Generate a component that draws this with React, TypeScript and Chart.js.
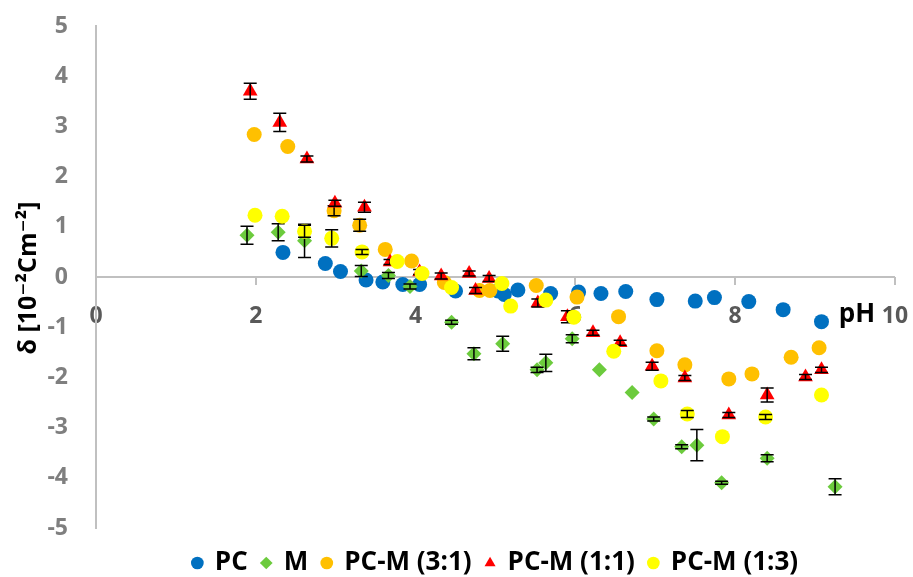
import React, { useEffect, useRef } from 'react';
import { Chart, registerables } from 'chart.js';

Chart.register(...registerables);

const FONT = '"Open Sans", "DejaVu Sans", sans-serif';

// Series names, in legend order
const seriesNames = ['PC', 'M', 'PC-M (3:1)', 'PC-M (1:1)', 'PC-M (1:3)'];
const seriesColors = ['#0070C0', '#6CCB3D', '#FFC000', '#FF0000', '#FFFF00'];
const seriesShapes = ['circle', 'rectRot', 'circle', 'triangle', 'circle'];

// Axis tick values
const xTickValues = [0, 2, 4, 6, 8, 10];
const yTickValues = [-5, -4, -3, -2, -1, 0, 1, 2, 3, 4, 5];

// PC
const pcPH = [2.34, 2.87, 3.06, 3.38, 3.59, 3.84, 4.05, 4.5, 5.03, 5.11, 5.28, 5.69, 6.04, 6.32, 6.63, 7.02, 7.5, 7.74, 8.17, 8.6, 9.08];
const pcDelta = [0.49, 0.27, 0.11, -0.06, -0.1, -0.15, -0.15, -0.28, -0.28, -0.35, -0.26, -0.33, -0.3, -0.33, -0.29, -0.45, -0.48, -0.41, -0.49, -0.65, -0.89];
const pcErr = [0, 0, 0, 0, 0, 0, 0, 0, 0, 0, 0, 0, 0, 0, 0, 0, 0, 0, 0, 0, 0];

// M
const mPH = [1.89, 2.28, 2.61, 3.32, 3.66, 3.93, 4.45, 4.73, 5.09, 5.52, 5.63, 5.96, 6.3, 6.71, 6.98, 7.33, 7.52, 7.83, 8.4, 9.25];
const mDelta = [0.83, 0.89, 0.72, 0.12, 0.03, -0.19, -0.9, -1.53, -1.33, -1.85, -1.71, -1.23, -1.85, -2.3, -2.83, -3.38, -3.35, -4.1, -3.61, -4.18];
const mErr = [0.18, 0.17, 0.33, 0.11, 0.06, 0.05, 0.04, 0.12, 0.15, 0.05, 0.17, 0.08, 0, 0, 0.04, 0.04, 0.31, 0.03, 0.07, 0.16];

// PC-M (3:1)
const pcm31PH = [1.98, 2.4, 2.98, 3.3, 3.62, 3.95, 4.36, 4.8, 4.93, 5.51, 6.02, 6.54, 7.02, 7.37, 7.92, 8.21, 8.7, 9.05];
const pcm31Delta = [2.84, 2.6, 1.32, 1.03, 0.55, 0.32, -0.11, -0.27, -0.27, -0.17, -0.4, -0.79, -1.47, -1.75, -2.03, -1.93, -1.6, -1.41];
const pcm31Err = [0, 0, 0.1, 0.12, 0, 0, 0, 0, 0, 0, 0, 0, 0, 0, 0, 0, 0, 0];

// PC-M (1:1)
const pcm11PH = [1.93, 2.3, 2.64, 2.99, 3.36, 3.68, 4.05, 4.32, 4.67, 4.75, 4.92, 5.53, 5.9, 6.22, 6.56, 6.96, 7.37, 7.92, 8.4, 8.88, 9.08];
const pcm11Delta = [3.7, 3.08, 2.35, 1.47, 1.39, 0.3, 0.1, 0.02, 0.07, -0.27, -0.03, -0.52, -0.79, -1.11, -1.31, -1.78, -2.01, -2.75, -2.35, -1.99, -1.85];
const pcm11Err = [0.16, 0.18, 0.06, 0.06, 0.1, 0.05, 0.05, 0.06, 0.05, 0.06, 0.06, 0.08, 0.12, 0.05, 0.05, 0.08, 0.05, 0.05, 0.14, 0.05, 0.05];

// PC-M (1:3)
const pcm13PH = [1.99, 2.33, 2.61, 2.95, 3.33, 3.77, 4.08, 4.45, 5.08, 5.19, 5.63, 5.98, 6.48, 7.07, 7.4, 7.84, 8.38, 9.08];
const pcm13Delta = [1.23, 1.21, 0.91, 0.77, 0.5, 0.31, 0.07, -0.21, -0.13, -0.58, -0.46, -0.8, -1.48, -2.07, -2.73, -3.18, -2.79, -2.35];
const pcm13Err = [0, 0, 0.12, 0.17, 0.05, 0, 0, 0, 0, 0, 0, 0, 0, 0, 0.07, 0, 0.05, 0];

const seriesPH = [pcPH, mPH, pcm31PH, pcm11PH, pcm13PH];
const seriesDelta = [pcDelta, mDelta, pcm31Delta, pcm11Delta, pcm13Delta];
const seriesErr = [pcErr, mErr, pcm31Err, pcm11Err, pcm13Err];
const seriesRadius = [7.5, 7.5, 7.5, 8.5, 7.5];

// Vertical error bars, drawn right after each series so later series overlap them
const errorBarPlugin = {
  id: 'errorBars',
  afterDatasetDraw(chart: any, args: any) {
    const errs = seriesErr[args.index];
    const vals = seriesDelta[args.index];
    if (!errs) return;
    const { ctx } = chart;
    const y = chart.scales.y;
    ctx.save();
    ctx.strokeStyle = '#000000';
    ctx.lineWidth = 1.5;
    args.meta.data.forEach((pt: any, i: number) => {
      const e = errs[i];
      if (!e) return;
      const px = pt.x;
      const top = y.getPixelForValue(vals[i] + e);
      const bot = y.getPixelForValue(vals[i] - e);
      ctx.beginPath();
      ctx.moveTo(px, top);
      ctx.lineTo(px, bot);
      ctx.moveTo(px - 6.5, top);
      ctx.lineTo(px + 6.5, top);
      ctx.moveTo(px - 6.5, bot);
      ctx.lineTo(px + 6.5, bot);
      ctx.stroke();
    });
    ctx.restore();
  },
};

// Axis titles: rotated y title at the left, "pH" beside the end of the x axis
const axisTitlePlugin = {
  id: 'axisTitles',
  afterDraw(chart: any) {
    const { ctx } = chart;
    ctx.save();
    ctx.fillStyle = '#000000';
    ctx.font = `bold 26px ${FONT}`;
    ctx.textAlign = 'center';
    ctx.textBaseline = 'alphabetic';
    ctx.fillText('pH', 857, 322);
    ctx.translate(29, 278);
    ctx.rotate(-Math.PI / 2);
    ctx.textBaseline = 'middle';
    ctx.font = `bold 25px ${FONT}`;
    ctx.fillText('δ [10⁻²Cm⁻²]', 0, 0);
    ctx.restore();
  },
};

export default function App() {
  const canvasRef = useRef<HTMLCanvasElement | null>(null);

  useEffect(() => {
    const canvas = canvasRef.current;
    if (!canvas) return;

    const datasets = seriesNames.map((name, s) => ({
      label: name,
      data: seriesPH[s].map((x, i) => ({ x, y: seriesDelta[s][i] })),
      backgroundColor: seriesColors[s],
      borderColor: seriesColors[s],
      borderWidth: 0,
      pointStyle: seriesShapes[s],
      pointRadius: seriesRadius[s],
      pointHoverRadius: seriesRadius[s],
      pointBorderWidth: 0,
      showLine: false,
      order: seriesNames.length - 1 - s,
    }));

    const chart = new Chart(canvas, {
      type: 'scatter',
      data: { datasets },
      plugins: [errorBarPlugin, axisTitlePlugin],
      options: {
        responsive: false,
        animation: false,
        events: [],
        layout: { padding: { top: 26, right: 18, bottom: -9, left: 0 } },
        plugins: {
          tooltip: { enabled: false },
          legend: {
            position: 'bottom',
            fullSize: false,
            title: { display: true, text: '', padding: 0, font: { size: 8, lineHeight: 1 } },
            labels: {
              usePointStyle: true,
              boxWidth: 9,
              boxHeight: 9,
              padding: 14,
              color: '#000000',
              font: { family: FONT, size: 26, weight: 'bold' },
              sort: (a: any, b: any) => a.datasetIndex - b.datasetIndex,
            },
          },
        },
        scales: {
          x: {
            type: 'linear',
            position: { y: 0 },
            min: 0,
            max: 10,
            z: 1,
            afterBuildTicks: (scale: any) => {
              scale.ticks = xTickValues.map((v) => ({ value: v }));
            },
            ticks: {
              color: '#595959',
              padding: 0,
              font: { family: FONT, size: 23, weight: 'bold' },
            },
            grid: {
              drawOnChartArea: false,
              drawTicks: true,
              tickLength: 26,
              tickBorderDash: [8, 60],
              tickColor: '#c0c0c0',
              tickWidth: 2,
              color: '#c0c0c0',
              lineWidth: 2,
            },
            border: { display: false },
          },
          y: {
            type: 'linear',
            position: 'left',
            min: -5,
            max: 5,
            afterBuildTicks: (scale: any) => {
              scale.ticks = yTickValues.map((v) => ({ value: v }));
            },
            afterFit: (scale: any) => {
              scale.width = 96;
            },
            ticks: {
              color: '#7f7f7f',
              padding: 0,
              font: { family: FONT, size: 23, weight: 'bold' },
            },
            grid: {
              drawTicks: true,
              tickLength: 28,
              tickColor: 'rgba(0,0,0,0)',
              color: (ctx: any) => (ctx.tick && ctx.tick.value === 0 ? '#c0c0c0' : 'rgba(0,0,0,0)'),
              lineWidth: 2,
            },
            border: { display: true, color: '#c0c0c0', width: 2 },
          },
        },
      } as any,
    });

    return () => chart.destroy();
  }, []);

  return (
    <div style={{ position: 'fixed', left: 0, top: 0, width: 913, height: 577, background: '#ffffff' }}>
      <canvas ref={canvasRef} width={913} height={577} style={{ display: 'block' }} />
    </div>
  );
}
